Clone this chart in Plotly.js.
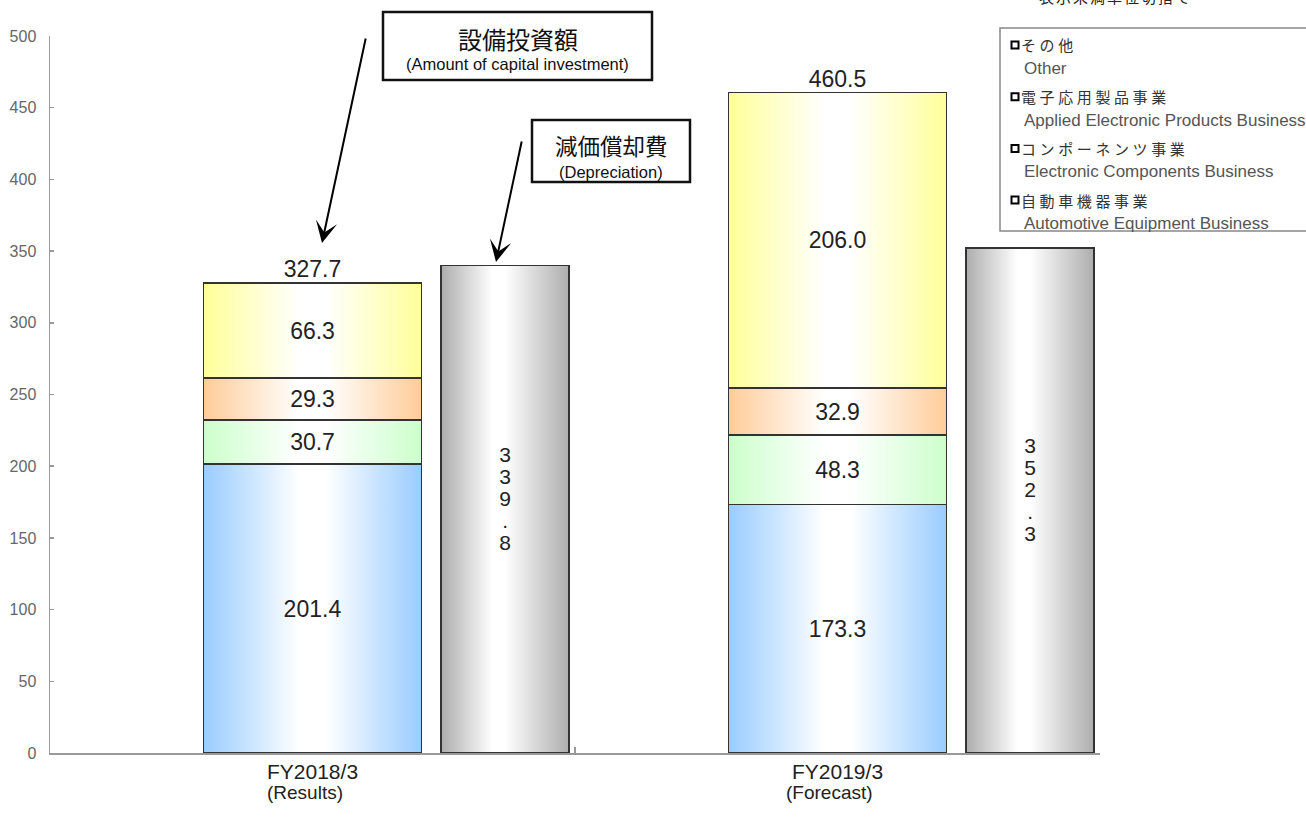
<!DOCTYPE html>
<html><head><meta charset="utf-8">
<script src="https://cdn.plot.ly/plotly-3.0.1.min.js"></script>
<style>html,body{margin:0;padding:0;background:#fff}#chart{width:1306px;height:818px}</style>
</head><body><div id="chart"></div>
<script>
// ---- data ----
const categories = ['FY2018/3', 'FY2019/3'];
const categorySub = ['(Results)', '(Forecast)'];
const segmentsJa = ['自動車機器事業', 'コンポーネンツ事業', '電子応用製品事業', 'その他'];
const segmentsEn = ['Automotive Equipment Business', 'Electronic Components Business', 'Applied Electronic Products Business', 'Other'];
const automotive = [201.4, 173.3];
const components = [30.7, 48.3];
const applied = [29.3, 32.9];
const other = [66.3, 206.0];
const depreciation = [339.8, 352.3];
const yTickVals = [0, 50, 100, 150, 200, 250, 300, 350, 400, 450, 500];
const calloutInvestJa = '設備投資額';
const calloutInvestEn = '(Amount of capital investment)';
const calloutDepJa = '減価償却費';
const calloutDepEn = '(Depreciation)';
const noteText = '表示未満単位切捨て';

// ---- style ----
const FONT = "'Liberation Sans', 'Noto Sans CJK JP', Arial, sans-serif";
const JFONT = "'Noto Sans CJK JP', 'Liberation Sans', sans-serif";
const segColors = ['#99CCFF', '#CCFFCC', '#FFCC99', '#FFFF99'];
const depColor = '#ADADAD';
const W = 1306, H = 818, ML = 50, MR = 206, MT = 36, MB = 65;
const PW = W - ML - MR, PH = H - MT - MB;
const px2x = X => (X - ML) / PW;     // paper x from pixel
const px2y = Y => (H - MB - Y) / PH;  // paper y from pixel

const xInvest = categories.map((c, i) => i + 0.5);
const xDep = categories.map((c, i) => i + 0.867);
const segValues = [automotive, components, applied, other];
const totals = categories.map((c, i) => segValues.reduce((s, arr) => s + arr[i], 0));

const data = [];
segValues.forEach((vals, k) => {
  data.push({
    type: 'bar', x: xInvest, y: vals, width: 0.415,
    name: segmentsJa[k], showlegend: false, hoverinfo: 'skip',
    marker: {color: segColors[k], line: {color: '#333', width: 1.5}},
    texttemplate: '%{y:.1f}', textposition: 'inside', insidetextanchor: 'middle',
    textangle: 0, constraintext: 'none',
    textfont: {family: FONT, size: 23, color: '#222'}
  });
});
data.push({
  type: 'bar', x: xDep, y: depreciation, width: 0.244,
  name: 'depreciation', showlegend: false, hoverinfo: 'skip',
  marker: {color: depColor, line: {color: '#333', width: 1.5}},
  text: depreciation.map(v => v.toFixed(1).split('').join('<br>')),
  texttemplate: '%{text}', textposition: 'inside', insidetextanchor: 'middle',
  textangle: 0, constraintext: 'none',
  textfont: {family: FONT, size: 21, color: '#222'}
});
data.push({
  type: 'scatter', mode: 'text', x: xInvest, y: totals,
  text: totals.map(v => v.toFixed(1)), textposition: 'top center',
  textfont: {family: FONT, size: 23, color: '#222'},
  showlegend: false, hoverinfo: 'skip', cliponaxis: false
});

const annotations = [];
const shapes = [];
// category labels
categories.forEach((c, i) => {
  annotations.push({
    xref: 'x', yref: 'paper', x: xInvest[i], y: px2y(771), yanchor: 'middle', showarrow: false,
    text: c, font: {family: FONT, size: 21, color: '#222'}
  });
  annotations.push({
    xref: 'x', yref: 'paper', x: xInvest[i] - 0.015, y: px2y(792), yanchor: 'middle', showarrow: false,
    text: categorySub[i], font: {family: FONT, size: 19, color: '#222'}
  });
});
// callout boxes
function callout(x0, x1, y0, y1, ja, en, yJa, yEn, jaSize) {
  shapes.push({
    type: 'rect', xref: 'paper', yref: 'paper', x0: px2x(x0), x1: px2x(x1), y0: px2y(y1), y1: px2y(y0),
    line: {color: '#111', width: 2.5}, fillcolor: '#fff', layer: 'above'
  });
  const cx = px2x((x0 + x1) / 2);
  annotations.push({xref: 'paper', yref: 'paper', x: cx, y: px2y(yJa), yanchor: 'middle', showarrow: false,
    text: ja, font: {family: JFONT, size: jaSize, color: '#111'}});
  annotations.push({xref: 'paper', yref: 'paper', x: cx, y: px2y(yEn), yanchor: 'middle', showarrow: false,
    text: en, font: {family: FONT, size: 16.5, color: '#111'}});
}
callout(383, 652, 12, 80, calloutInvestJa, calloutInvestEn, 38, 64, 24);
callout(532, 690, 120, 182, calloutDepJa, calloutDepEn, 145, 172, 22.5);
// arrows
annotations.push({
  xref: 'paper', yref: 'paper', x: px2x(322), y: px2y(243), ax: 44, ay: -206, text: '',
  showarrow: true, arrowhead: 3, arrowsize: 1.8, arrowwidth: 2, arrowcolor: '#000'
});
annotations.push({
  xref: 'paper', yref: 'paper', x: px2x(496), y: px2y(262), ax: 26, ay: -122, text: '',
  showarrow: true, arrowhead: 3, arrowsize: 1.8, arrowwidth: 2, arrowcolor: '#000'
});
// note at top right (clipped by page edge as in the reference)
annotations.push({
  xref: 'paper', yref: 'paper', x: px2x(1037), y: px2y(-3), xanchor: 'left', yanchor: 'middle',
  showarrow: false, text: '<span style="letter-spacing:2px">' + noteText + '</span>',
  font: {family: JFONT, size: 15, color: '#222'}
});
// legend (custom, top to bottom: reversed segment order)
shapes.push({
  type: 'rect', xref: 'paper', yref: 'paper', x0: px2x(1000), x1: px2x(1330), y0: px2y(231), y1: px2y(28),
  line: {color: '#888', width: 1.5}, fillcolor: 'rgba(255,255,255,0)', layer: 'above'
});
const legOrder = [3, 2, 1, 0];
legOrder.forEach((k, j) => {
  const yJ = 45 + j * 51.7;
  shapes.push({
    type: 'rect', xref: 'paper', yref: 'paper', xsizemode: 'pixel', ysizemode: 'pixel',
    xanchor: px2x(1015), yanchor: px2y(yJ), x0: -3.5, x1: 3.5, y0: -3.5, y1: 3.5,
    line: {color: '#000', width: 2}, fillcolor: '#fff', layer: 'above'
  });
  annotations.push({
    xref: 'paper', yref: 'paper', x: px2x(1019), y: px2y(yJ), xanchor: 'left', yanchor: 'middle',
    showarrow: false, text: '<span style="letter-spacing:3.6px">' + segmentsJa[k] + '</span>',
    font: {family: JFONT, size: 15, color: '#333'}
  });
  annotations.push({
    xref: 'paper', yref: 'paper', x: px2x(1022), y: px2y(yJ + 23.5), xanchor: 'left', yanchor: 'middle',
    showarrow: false, text: segmentsEn[k],
    font: {family: FONT, size: 17, color: '#555'}
  });
});

const layout = {
  width: W, height: H,
  margin: {l: ML, r: MR, t: MT, b: MB, pad: 0},
  paper_bgcolor: '#fff', plot_bgcolor: '#fff',
  barmode: 'stack', showlegend: false,
  font: {family: FONT},
  xaxis: {
    range: [0, 2], tickvals: [1, 2], showticklabels: false, ticks: 'inside', ticklen: 6,
    tickcolor: '#999', tickwidth: 1.5, showline: true, linecolor: '#999', linewidth: 1.5,
    showgrid: false, zeroline: false, fixedrange: true
  },
  yaxis: {
    range: [0, 500], tickvals: yTickVals, ticks: 'inside', ticklen: 4, tickcolor: '#999', tickwidth: 1.5,
    showline: true, linecolor: '#999', linewidth: 1.5, showgrid: false, zeroline: false,
    tickfont: {family: FONT, size: 16, color: '#666'}, ticklabelstandoff: 9, fixedrange: true
  },
  annotations: annotations, shapes: shapes
};

const gd = document.getElementById('chart');
Plotly.newPlot(gd, data, layout, {displayModeBar: false, staticPlot: true}).then(() => {
  const NS = 'http://www.w3.org/2000/svg';
  const svg = gd.querySelector('svg.main-svg');
  const defs = document.createElementNS(NS, 'defs');
  svg.insertBefore(defs, svg.firstChild);
  const allColors = segColors.concat([depColor]);
  allColors.forEach((c, i) => {
    const lg = document.createElementNS(NS, 'linearGradient');
    lg.setAttribute('id', 'bargrad' + i);
    lg.setAttribute('x1', '0'); lg.setAttribute('y1', '0');
    lg.setAttribute('x2', '1'); lg.setAttribute('y2', '0');
    const stops = i === 4 ? [[0, c], [0.4, '#ffffff'], [0.5, '#ffffff'], [1, c]]
                          : [[0, c], [0.44, '#ffffff'], [0.56, '#ffffff'], [1, c]];
    stops.forEach(([o, col]) => {
      const s = document.createElementNS(NS, 'stop');
      s.setAttribute('offset', o);
      s.setAttribute('stop-color', col);
      lg.appendChild(s);
    });
    defs.appendChild(lg);
  });
  const barTraces = gd.querySelectorAll('.barlayer .trace.bars');
  barTraces.forEach((t, i) => {
    t.querySelectorAll('.point path').forEach(p => { p.style.fill = 'url(#bargrad' + i + ')'; });
  });
  // tighter line spacing for the vertical depreciation labels (as in the reference)
  if (barTraces[4]) {
    barTraces[4].querySelectorAll('text tspan.line').forEach(ts => {
      const dy = ts.getAttribute('dy');
      if (dy && parseFloat(dy) !== 0) ts.setAttribute('dy', (parseFloat(dy) * 1.05 / 1.3) + 'em');
    });
  }
});
</script>
</body></html>
